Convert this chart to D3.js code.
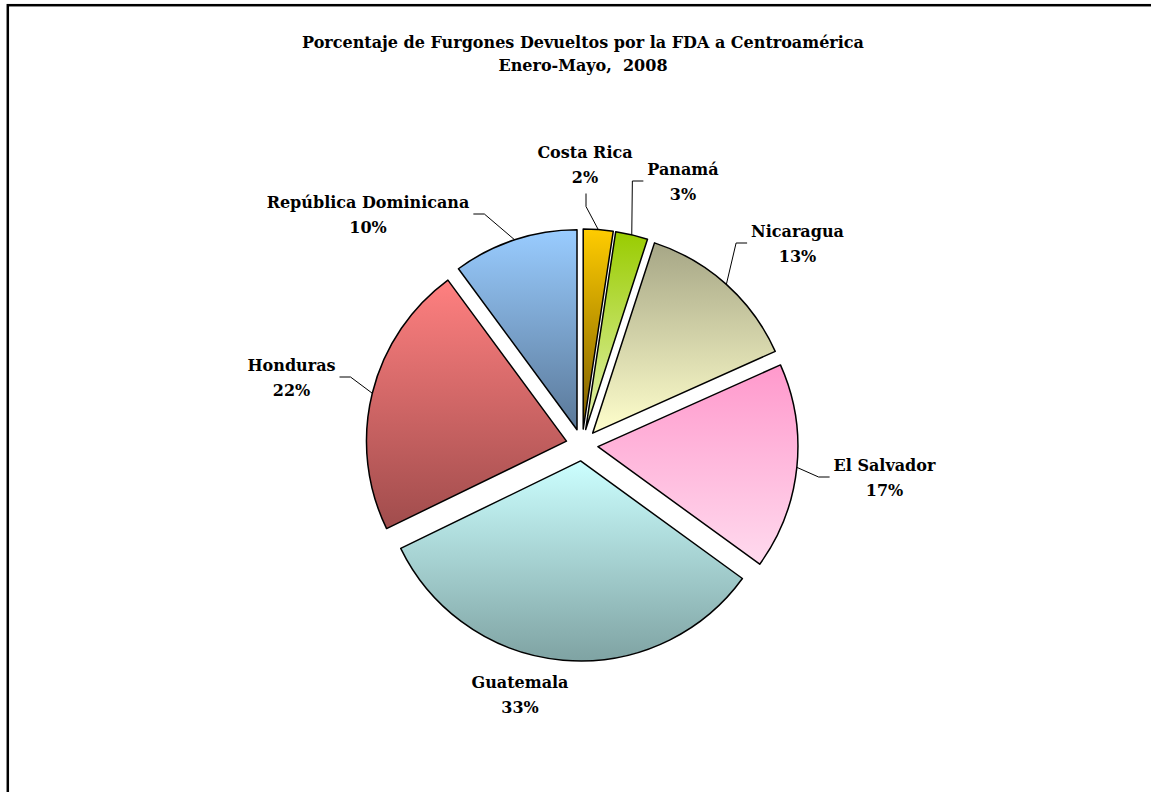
<!DOCTYPE html>
<html>
<head>
<meta charset="utf-8">
<script src="https://cdn.jsdelivr.net/npm/d3@7"></script>
<style>
  html, body { margin: 0; padding: 0; background: #fff; }
  svg { display: block; }
  text { font-family: "DejaVu Serif", "Liberation Serif", serif; font-weight: bold; fill: #000; }
</style>
</head>
<body>
<svg id="chart" width="1151" height="792"></svg>
<script>
// ---- data ----
const titleLines = ["Porcentaje de Furgones Devueltos por la FDA a Centroamérica", "Enero-Mayo,\u00a0 2008"];
const categories = ["Costa Rica", "Panamá", "Nicaragua", "El Salvador", "Guatemala", "Honduras", "República Dominicana"];
const values = [2.4, 2.6, 13.3, 16.7, 32.8, 22.1, 10.1];
const topColors = ["#FFCC00", "#99CC00", "#A6A686", "#FF99CC", "#CCFFFF", "#FF8080", "#99CCFF"];
const bottomColors = ["#7A5C00", "#E4F2B0", "#FFFFCC", "#FFDAEE", "#7FA3A3", "#A04C4C", "#5A7898"];

// ---- layout (label anchors: line-1 baseline; leader side) ----
const labelAnchor = [[585, 158], [683, 175], [797.5, 237], [884.5, 471], [520, 688], [291.5, 371], [368, 208]];
const leaderSide = ["top", "right", "right", "right", null, "left", "left"];

const W = 1151, H = 792;
const cx = 582, cy = 445, R = 200, explode = 16;
const svg = d3.select("#chart");

// frame
svg.append("rect").attr("x", 7.8).attr("y", 5.2).attr("width", W + 20).attr("height", H + 20)
  .attr("fill", "none").attr("stroke", "#000").attr("stroke-width", 2.5);

// title
svg.append("text").attr("x", 583).attr("y", 47.7).attr("text-anchor", "middle")
  .style("font-size", "16px").text(titleLines[0]);
svg.append("text").attr("x", 583).attr("y", 70.5).attr("text-anchor", "middle")
  .style("font-size", "16px").text(titleLines[1]);

// gradients
const defs = svg.append("defs");
categories.forEach((c, i) => {
  const g = defs.append("linearGradient").attr("id", "grad" + i)
    .attr("x1", 0).attr("y1", 0).attr("x2", 0).attr("y2", 1);
  g.append("stop").attr("offset", "0%").attr("stop-color", topColors[i]);
  g.append("stop").attr("offset", "100%").attr("stop-color", bottomColors[i]);
});

const total = d3.sum(values);
const pie = d3.pie().sort(null).value(d => d).startAngle(0).endAngle(2 * Math.PI);
const arcs = pie(values);
const arc = d3.arc().innerRadius(0).outerRadius(R);
const fmt = d3.format(".0%");

const gPie = svg.append("g").attr("transform", `translate(${cx},${cy})`);
const mid = d => (d.startAngle + d.endAngle) / 2;
const off = d => [Math.sin(mid(d)) * explode, -Math.cos(mid(d)) * explode];

gPie.selectAll("path.slice").data(arcs).enter().append("path")
  .attr("class", "slice")
  .attr("transform", d => `translate(${off(d)[0]},${off(d)[1]})`)
  .attr("d", arc)
  .attr("fill", (d, i) => `url(#grad${i})`)
  .attr("stroke", "#000").attr("stroke-width", 1.5).attr("stroke-linejoin", "round");

// labels
const labelFont = 16;
arcs.forEach((d, i) => {
  const [lx, ly] = labelAnchor[i];
  const t1 = svg.append("text").attr("x", lx).attr("y", ly).attr("text-anchor", "middle")
    .style("font-size", labelFont + "px").text(categories[i]);
  const t2 = svg.append("text").attr("x", lx).attr("y", ly + 24.5).attr("text-anchor", "middle")
    .style("font-size", labelFont + "px").text(fmt(values[i] / total));
  const w = Math.max(t1.node().getComputedTextLength(), t2.node().getComputedTextLength());
  const side = leaderSide[i];
  if (!side) return;
  const o = off(d);
  const a = mid(d);
  const px = cx + o[0] + Math.sin(a) * R;
  const py = cy + o[1] - Math.cos(a) * R;
  let pts;
  if (side === "top") {
    const x = lx + 1;
    pts = [[px, py], [x, ly + 24.5 + 24], [x, ly + 24.5 + 11]];
  } else if (side === "left") {
    const edge = lx + w / 2;
    pts = [[px, py], [edge + 15, ly + 6], [edge + 4, ly + 6]];
  } else {
    const edge = lx - w / 2;
    pts = [[px, py], [edge - 15, ly + 6], [edge - 4, ly + 6]];
  }
  svg.append("path").attr("d", d3.line()(pts)).attr("fill", "none")
    .attr("stroke", "#000").attr("stroke-width", 1);
});
</script>
</body>
</html>
